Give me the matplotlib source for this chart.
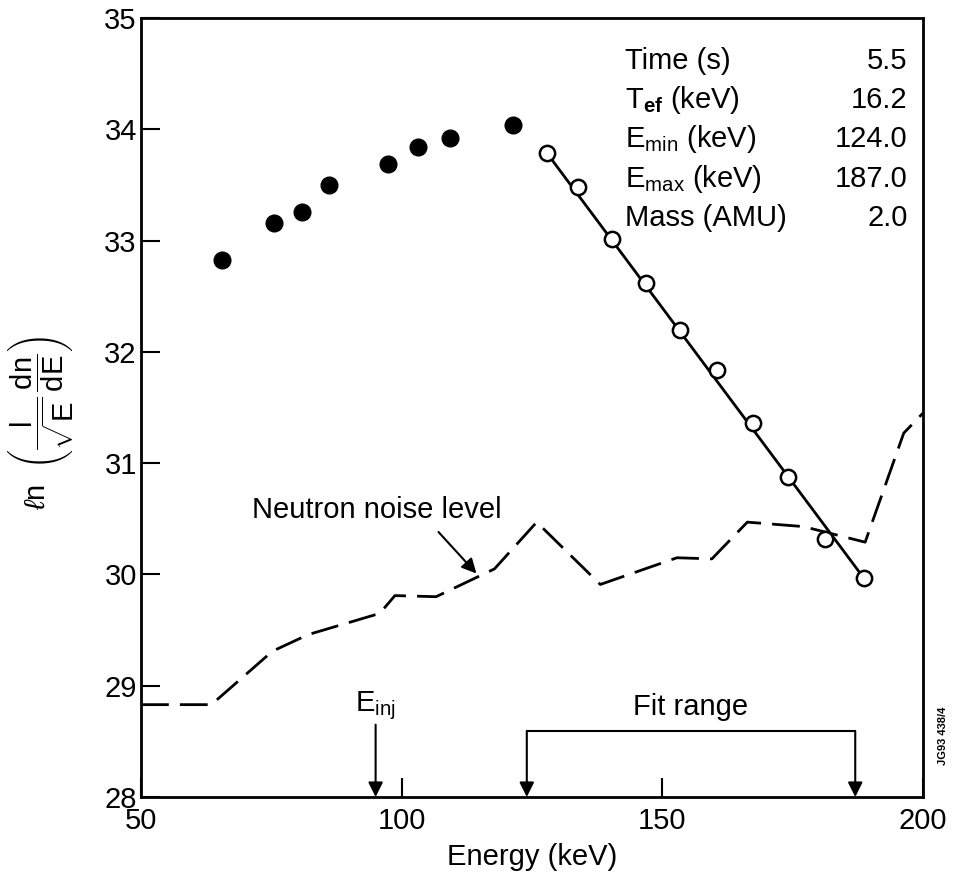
import matplotlib
matplotlib.use("Agg")
import matplotlib.pyplot as plt

plt.rcParams['font.family'] = ['Liberation Sans', 'DejaVu Sans']
plt.rcParams['mathtext.fontset'] = 'custom'
plt.rcParams['mathtext.rm'] = 'Liberation Sans'
plt.rcParams['mathtext.it'] = 'Liberation Sans:italic'
plt.rcParams['mathtext.bf'] = 'Liberation Sans:bold'

# Data
filled_E = [65.6, 75.5, 80.8, 86.1, 97.3, 103.2, 109.2, 121.3]
filled_ln = [32.83, 33.16, 33.26, 33.50, 33.69, 33.84, 33.92, 34.04]

open_E = [127.8, 133.9, 140.4, 146.9, 153.3, 160.5, 167.4, 174.1, 181.2, 188.6]
open_ln = [33.79, 33.48, 33.01, 32.62, 32.20, 31.84, 31.36, 30.88, 30.32, 29.97]

fit_E = [127.8, 188.6]
fit_ln = [33.79, 29.97]

noise_E = [50.0, 63.5, 75.2, 82.1, 95.8, 98.7, 106.6, 117.8, 125.9, 138.1,
           152.8, 159.5, 166.3, 177.1, 188.9, 196.3, 200.0]
noise_ln = [28.83, 28.83, 29.31, 29.46, 29.65, 29.81, 29.80, 30.05, 30.47, 29.91,
            30.15, 30.14, 30.47, 30.43, 30.29, 31.27, 31.45]

info_labels = ['Time (s)', r'T$_{\mathbf{ef}}$ (keV)', r'E$_{\mathrm{min}}$ (keV)',
               r'E$_{\mathrm{max}}$ (keV)', 'Mass (AMU)']
info_values = ['5.5', '16.2', '124.0', '187.0', '2.0']

E_inj = 95.0
fit_min, fit_max = 124.0, 187.0

x_ticks = [50, 100, 150, 200]
y_ticks = [28, 29, 30, 31, 32, 33, 34, 35]

FS = 21

fig = plt.figure(figsize=(9.56, 8.84), dpi=100)
ax = fig.add_axes([0.1475, 0.0984, 0.818, 0.8812])

ax.plot(noise_E, noise_ln, color='black', lw=2.0, dashes=(10, 4), clip_on=True)
ax.plot(fit_E, fit_ln, color='black', lw=2.0)
ax.plot(filled_E, filled_ln, 'o', color='black', ms=12)
ax.plot(open_E, open_ln, 'o', mfc='white', mec='black', mew=1.8, ms=11)

ax.set_xlim(50, 200)
ax.set_ylim(28, 35)
ax.set_xticks(x_ticks)
ax.set_yticks(y_ticks)
ax.tick_params(direction='in', length=14, width=1.5, labelsize=FS)
ax.tick_params(axis='y', pad=3)
ax.tick_params(axis='x', pad=7)
for s in ax.spines.values():
    s.set_linewidth(2.0)

ax.set_xlabel('Energy (keV)', fontsize=FS, labelpad=6)
ax.set_ylabel(r'$\ell$n$\ \ \left(\dfrac{\mathrm{l}}{\sqrt{\mathrm{E}}}\,\dfrac{\mathrm{dn}}{\mathrm{dE}}\right)$',
              fontsize=21)
ax.yaxis.set_label_coords(-0.083, 0.48)

# Info table
ys = [34.61, 34.26, 33.91, 33.55, 33.20]
for lab, val, yy in zip(info_labels, info_values, ys):
    ax.text(142.8, yy, lab, fontsize=FS, ha='left', va='center')
    ax.text(197.0, yy, val, fontsize=FS, ha='right', va='center')

# Neutron noise annotation
ax.annotate('', xy=(114.7, 29.99), xytext=(106.7, 30.40),
            arrowprops=dict(arrowstyle='-|>', color='black', lw=1.5, mutation_scale=22))
ax.text(95.2, 30.58, 'Neutron noise level', fontsize=FS, ha='center', va='center')

# E_inj arrow
ax.annotate('', xy=(E_inj, 28.0), xytext=(E_inj, 28.65),
            arrowprops=dict(arrowstyle='-|>', color='black', lw=1.5, mutation_scale=22,
                            shrinkA=0, shrinkB=0))
ax.text(E_inj, 28.82, r'E$_{\mathrm{inj}}$', fontsize=FS, ha='center', va='center')

# Fit range bracket
ax.plot([fit_min, fit_max], [28.59, 28.59], color='black', lw=1.5)
for xv in (fit_min, fit_max):
    ax.annotate('', xy=(xv, 28.0), xytext=(xv, 28.59),
                arrowprops=dict(arrowstyle='-|>', color='black', lw=1.5, mutation_scale=22,
                                shrinkA=0, shrinkB=0))
ax.text((fit_min + fit_max) / 2, 28.81, 'Fit range', fontsize=FS, ha='center', va='center')

fig.text(0.986, 0.168, 'JG93 438/4', rotation=90, fontsize=8, fontweight='bold',
         ha='center', va='center')

fig.savefig('out.png', dpi=100)
